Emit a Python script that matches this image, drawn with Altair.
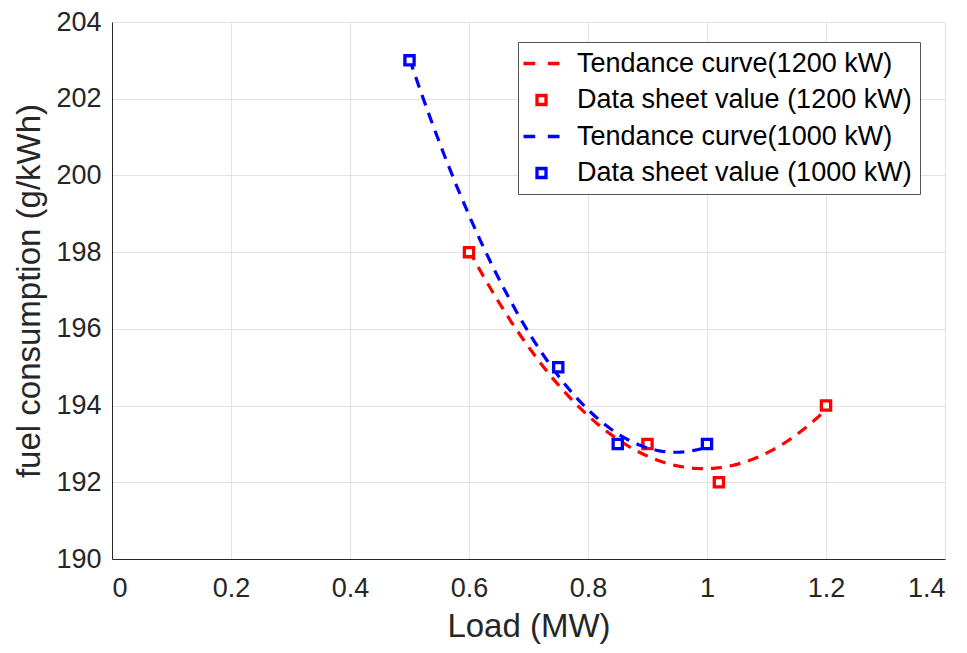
import altair as alt
import pandas as pd

# Data sheet values
red_x = [0.6, 0.9, 1.02, 1.2]
red_y = [198, 193, 192, 194]
blue_x = [0.5, 0.75, 0.85, 1.0]
blue_y = [203, 195, 193, 193]

labels = [
    "Tendance curve(1200 kW)",
    "Data sheet value (1200 kW)",
    "Tendance curve(1000 kW)",
    "Data sheet value (1000 kW)",
]
colors = ["#ff0000", "#ff0000", "#0000ff", "#0000ff"]

x_ticks = [0, 0.2, 0.4, 0.6, 0.8, 1.0, 1.2, 1.4]
y_ticks = [190, 192, 194, 196, 198, 200, 202, 204]

dash_path = "M -2 0 L -0.7 0 M 0.7 0 L 2 0"
square_path = "M -0.5 -0.5 L 0.5 -0.5 L 0.5 0.5 L -0.5 0.5 Z"
shapes = [dash_path, square_path, dash_path, square_path]

red_df = pd.DataFrame({"x": red_x, "y": red_y, "series": labels[1]})
blue_df = pd.DataFrame({"x": blue_x, "y": blue_y, "series": labels[3]})
df = pd.concat([red_df, blue_df], ignore_index=True)

FONT = "Liberation Sans"

xenc = alt.X(
    "x:Q",
    scale=alt.Scale(domain=[0, 1.4], nice=False, zero=False),
    axis=alt.Axis(values=x_ticks, format="~g", title="Load (MW)"),
)
yenc = alt.Y(
    "y:Q",
    scale=alt.Scale(domain=[190, 204], nice=False, zero=False),
    axis=alt.Axis(values=y_ticks, title="fuel consumption (g/kWh)"),
)

base = alt.Chart(df)

red_line = (
    base.transform_filter(alt.datum.series == labels[1])
    .transform_regression("x", "y", method="poly", order=2)
    .mark_line(color="#ff0000", strokeWidth=3.2, strokeDash=[11, 8])
    .encode(x=xenc, y=yenc)
)
red_pts = (
    base.transform_filter(alt.datum.series == labels[1])
    .mark_point(filled=False, fill="white", fillOpacity=1, strokeWidth=3.3, size=340, opacity=1)
    .encode(
        x=xenc,
        y=yenc,
        color=alt.Color(
            "series:N",
            scale=alt.Scale(domain=labels, range=colors),
            legend=alt.Legend(title=None, orient="none", legendX=406, legendY=20),
        ),
        shape=alt.Shape("series:N", scale=alt.Scale(domain=labels, range=shapes)),
    )
)
blue_line = (
    base.transform_filter(alt.datum.series == labels[3])
    .transform_regression("x", "y", method="poly", order=2)
    .mark_line(color="#0000ff", strokeWidth=3.2, strokeDash=[11, 8])
    .encode(x=xenc, y=yenc)
)
blue_pts = (
    base.transform_filter(alt.datum.series == labels[3])
    .mark_point(filled=False, fill="white", fillOpacity=1, strokeWidth=3.3, size=340, opacity=1)
    .encode(
        x=xenc,
        y=yenc,
        color=alt.Color("series:N", scale=alt.Scale(domain=labels, range=colors)),
        shape=alt.Shape("series:N", scale=alt.Scale(domain=labels, range=shapes)),
    )
)

chart = (
    alt.layer(red_line, red_pts, blue_line, blue_pts)
    .properties(
        width=833,
        height=537,
        autosize=alt.AutoSizeParams(type="none"),
        padding={"left": 104, "top": 14, "right": 14, "bottom": 86},
    )
    .configure_view(stroke=None)
    .configure_axis(
        labelFont=FONT,
        titleFont=FONT,
        labelFontSize=27,
        titleFontSize=33,
        titleFontWeight="normal",
        labelColor="#262626",
        titleColor="#262626",
        domainColor="#262626",
        domainWidth=1,
        gridColor="#e3e3e3",
        gridWidth=1,
        ticks=False,
    )
    .configure_axisY(titlePadding=9, labelPadding=11)
    .configure_axisX(titlePadding=9, labelPadding=16)
    .configure_legend(
        labelFont=FONT,
        labelFontSize=27,
        labelColor="#000000",
        strokeColor="#555555",
        fillColor="white",
        padding=8,
        rowPadding=8.5,
        symbolSize=324,
        symbolOffset=2,
        symbolStrokeWidth=3.3,
        symbolFillColor="white",
        labelOffset=22,
        labelLimit=500,
        cornerRadius=0,
    )
)

chart.save("out.html", embed_options={"renderer": "svg", "actions": False})
